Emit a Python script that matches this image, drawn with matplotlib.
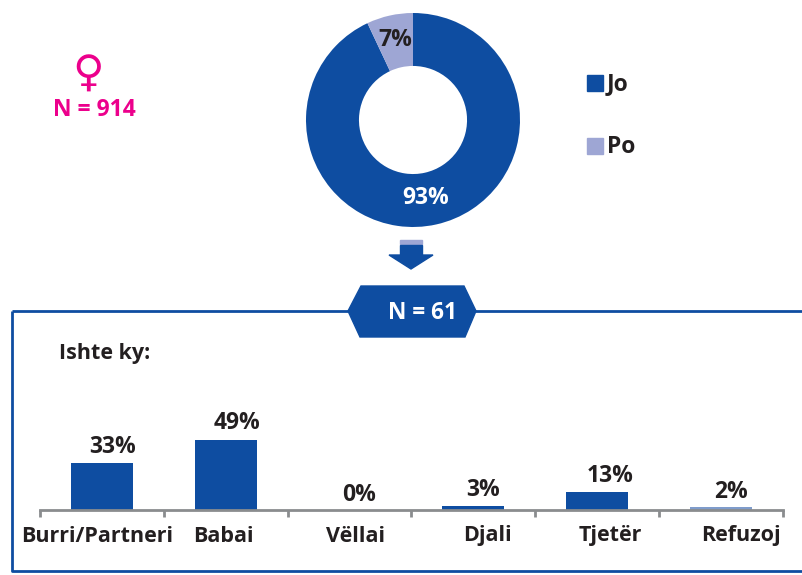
import matplotlib
matplotlib.use('Agg')
import matplotlib.pyplot as plt
from matplotlib.patches import Polygon, Rectangle

plt.rcParams['font.family'] = ['Open Sans', 'DejaVu Sans']
plt.rcParams['font.weight'] = 'bold'

W, H = 803, 575
BLUE = '#0E4DA1'
LIGHT = '#9EA6D4'
PINK = '#EC008C'
DARK = '#231F20'
GRAY = '#8A8C8E'

pie_labels = ['Jo', 'Po']
pie_values = [93, 7]
pie_text = ['93%', '7%']

categories = ['Burri/Partneri', 'Babai', 'Vëllai', 'Djali', 'Tjetër', 'Refuzoj']
bar_values = [33, 49, 0, 3, 13, 2]
bar_text = ['33%', '49%', '0%', '3%', '13%', '2%']
bar_colors = [BLUE, BLUE, BLUE, BLUE, BLUE, '#7F9CCB']


def box(x0, y0, x1, y1):
    # pixel box (y from the top) to figure fractions
    return [x0 / W, 1 - y1 / H, (x1 - x0) / W, (y1 - y0) / H]


fig = plt.figure(figsize=(W / 100, H / 100), dpi=100)

# whole figure in pixel coordinates for the frame, arrow and labels
bg = fig.add_axes([0, 0, 1, 1])
bg.set_xlim(0, W)
bg.set_ylim(H, 0)
bg.axis('off')
bg.set_zorder(5)

bg.plot([12, 12, 803], [311, 571, 571], color=BLUE, lw=2, solid_capstyle='butt')
bg.plot([12, 803], [311, 311], color=BLUE, lw=2, solid_capstyle='butt')
bg.add_patch(Polygon([(348, 311), (361, 286), (464, 286), (476, 311), (465, 337), (360, 337)],
                     color=BLUE, zorder=3))
bg.text(423, 313, 'N = 61', color='white', fontsize=16.3, ha='center', va='center', zorder=4)

# arrow between the donut and the box
bg.add_patch(Rectangle((400, 240), 22, 4, color=LIGHT))
bg.add_patch(Rectangle((400, 245), 22, 11, color=BLUE))
bg.add_patch(Polygon([(389, 255), (433, 255), (411, 269)], color=BLUE))

# female sign
bg.text(88, 75, '♀', color=PINK, fontsize=31, ha='center', va='center',
        family='DejaVu Sans', weight='normal')
bg.text(94.5, 110, 'N = 914', color=PINK, fontsize=16.5, ha='center', va='center')

bg.text(59, 353, 'Ishte ky:', color=DARK, fontsize=15.5, ha='left', va='center')

# donut
pie_ax = fig.add_axes(box(306, 13, 520, 227))
wedges, _ = pie_ax.pie(pie_values, colors=[BLUE, LIGHT], startangle=90, counterclock=False,
                       radius=1, wedgeprops={'width': 0.495})
pie_ax.set_xlim(-1, 1)
pie_ax.set_ylim(-1, 1)
bg.text(426, 198, pie_text[0], color='white', fontsize=16.5, ha='center', va='center')
bg.text(395, 40, pie_text[1], color=DARK, fontsize=16.5, ha='center', va='center')

# legend
for lab, col, y in zip(pie_labels, [BLUE, LIGHT], [83, 146]):
    bg.add_patch(Rectangle((587, y - 8), 16, 16, color=col))
    bg.text(607, y + 1, lab, color=DARK, fontsize=16.5, ha='left', va='center')

# bars
ax = fig.add_axes(box(40, 400, 783, 510))
ax.patch.set_alpha(0)
xs = range(len(categories))
ax.bar(xs, bar_values, width=0.5, color=bar_colors)
ax.set_xlim(-0.5, 5.5)
ax.set_ylim(0, 110 / 1.42)
ax.set_yticks([])
ax.set_xticks([i - 0.5 for i in range(7)])
ax.set_xticklabels([])
ax.tick_params(axis='x', length=5, width=2, color=GRAY)
for s in ['top', 'left', 'right']:
    ax.spines[s].set_visible(False)
ax.spines['bottom'].set_color(GRAY)
ax.spines['bottom'].set_linewidth(2)

label_x = [97, 223, 356, 487, 610, 741]
for x, lab in zip(label_x, categories):
    bg.text(x, 536, lab, color=DARK, fontsize=15.5, ha='center', va='center')

# value labels sit off-centre on their bars in the original
value_x = [113, 237, 359, 483, 610, 731]
value_y = [447, 423, 495, 490, 476, 492]
for x, y, t in zip(value_x, value_y, bar_text):
    bg.text(x, y, t, color=DARK, fontsize=16.5, ha='center', va='center')

fig.savefig('out.png', dpi=100)
